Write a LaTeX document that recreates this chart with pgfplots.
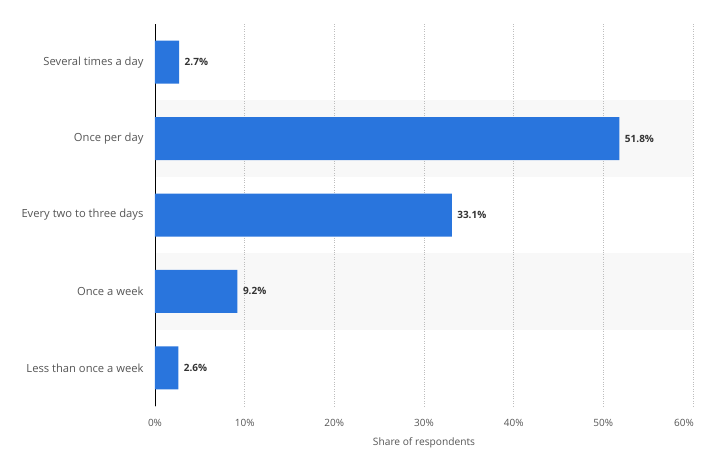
\documentclass[border=0pt]{standalone}
\usepackage{pgfplots}
\pgfplotsset{compat=1.18}
\usepackage{fontspec}
\setmainfont{Open Sans}
\definecolor{barblue}{RGB}{41,117,221}
\definecolor{bandgray}{RGB}{248,248,248}
\definecolor{labgray}{RGB}{85,85,85}
\definecolor{gridgray}{RGB}{190,190,190}
\pgfplotsset{base/.style={
  scale only axis,
  width=538pt, height=382pt,
  xmin=0, xmax=60,
  ymin=-0.5, ymax=4.5,
  y dir=reverse,
}}
\begin{document}
\begin{tikzpicture}
\useasboundingbox (-155pt,-47pt) rectangle (550pt,406pt);
\begin{axis}[base, hide axis]
\fill[bandgray] (axis cs:0,0.5) rectangle (axis cs:60,1.5);
\fill[bandgray] (axis cs:0,2.5) rectangle (axis cs:60,3.5);
\end{axis}
\begin{axis}[
  base,
  xbar, bar width=43pt,
  ytick={0,1,2,3,4},
  yticklabels={Several times a day,Once per day,Every two to three days,Once a week,Less than once a week},
  xtick={0,10,20,30,40,50,60},
  xticklabels={0\%,10\%,20\%,30\%,40\%,50\%,60\%\hspace*{18pt}},
  /pgf/number format/assume math mode=true,
  axis x line*=bottom,
  x axis line style={draw=none},
  axis y line*=left,
  y axis line style={black, line width=0.9pt, -},
  major tick length=0pt,
  xmajorgrids,
  major grid style={gridgray, dotted, line width=0.7pt},
  yticklabel style={font=\fontsize{11.2}{13}\selectfont, text=labgray, xshift=-8pt},
  xticklabel style={font=\fontsize{10}{12}\selectfont, text=labgray, yshift=-10pt},
  xlabel={Share of respondents},
  xlabel style={font=\fontsize{10.2}{12}\selectfont, text=labgray, yshift=-4pt},
  point meta=x,
  nodes near coords={\pgfmathprintnumber[fixed,fixed zerofill,precision=1]{\pgfplotspointmeta}\%},
  nodes near coords style={font=\bfseries\fontsize{10}{12}\selectfont, text={rgb,255:red,51;green,51;blue,51}, anchor=west, xshift=2pt},
  clip=false,
]
\addplot[fill=barblue, draw=none] coordinates {
  (2.7,0) (51.8,1) (33.1,2) (9.2,3) (2.6,4)
};
\end{axis}
\end{tikzpicture}
\end{document}
